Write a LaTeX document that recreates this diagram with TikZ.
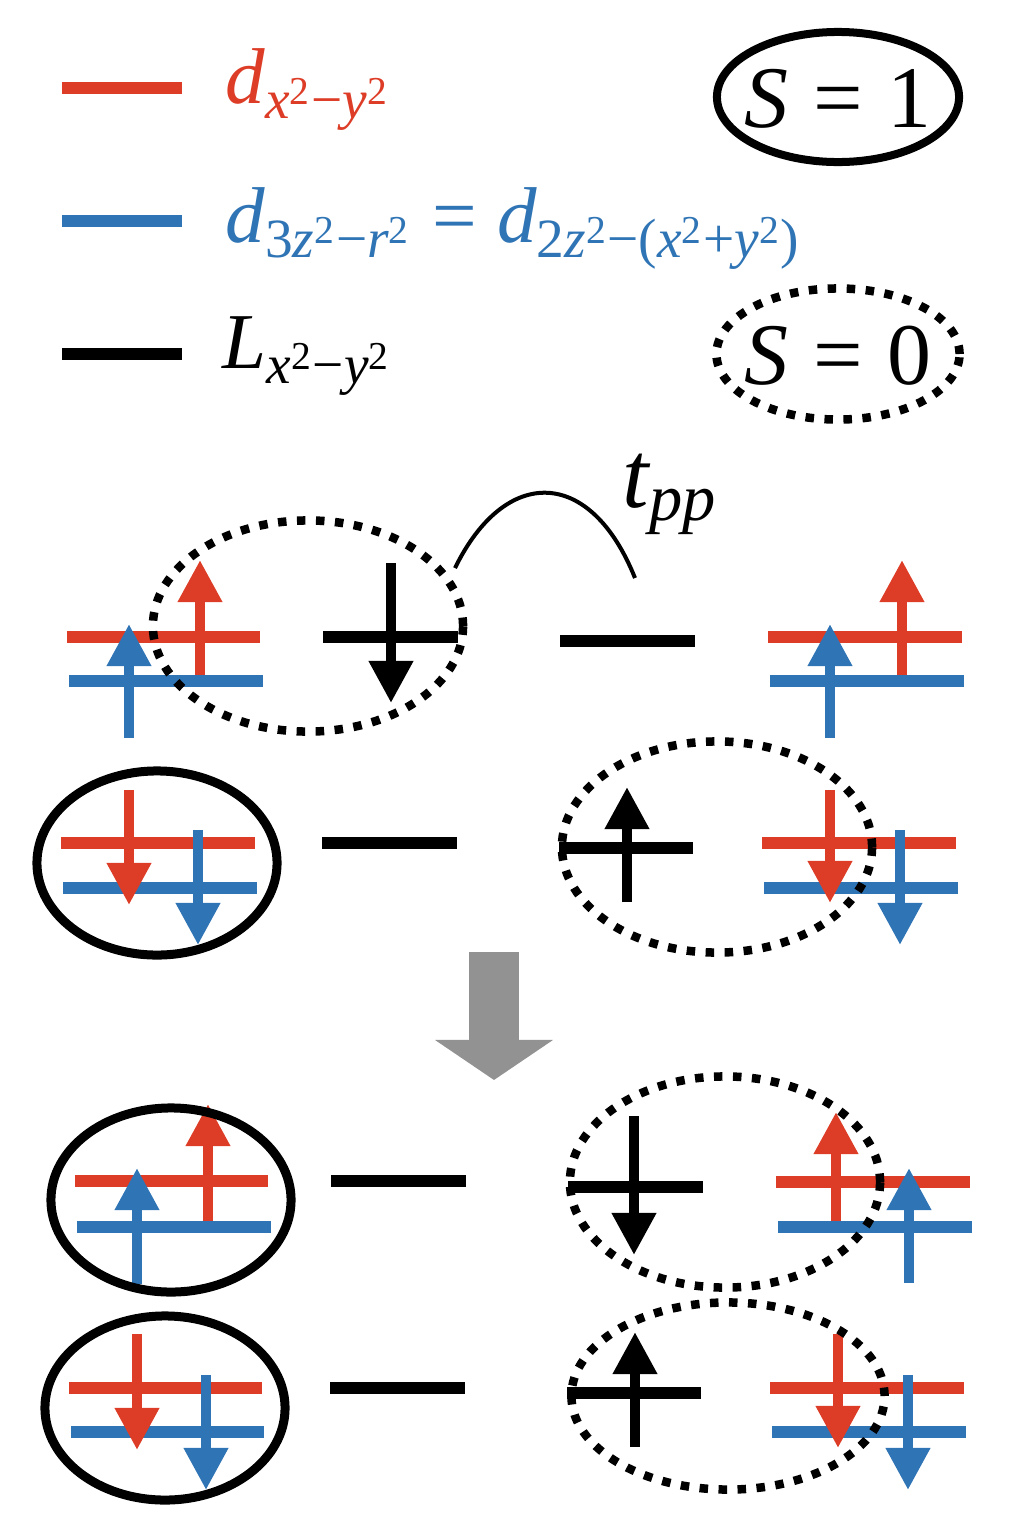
\documentclass[tikz,border=0pt]{standalone}
\usepackage{amsmath}
\usepackage{fontspec}
\setmainfont{Liberation Serif}
\newfontfamily\labfont{Liberation Serif}
\usetikzlibrary{arrows.meta, shapes.geometric}
\definecolor{dred}{RGB}{221,61,39}
\definecolor{dblue}{RGB}{47,116,181}
\definecolor{flowgray}{RGB}{146,146,146}
\newcommand{\vi}[1]{\text{\labfont\itshape #1}}
\newcommand{\vu}[1]{\text{\labfont #1}}

\begin{document}
\begin{tikzpicture}[
    x=0.01cm, y=-0.01cm,
    orbline/.style={line width=0.125cm},
    spinarr/.style={line width=0.1cm, -{Triangle[length=0.42cm, width=0.42cm]}},
    tripl/.style={draw, ellipse, line width=0.09cm, inner sep=0pt, minimum width=2.40cm, minimum height=1.84cm},
    singl/.style={draw, ellipse, line width=0.085cm, dash pattern=on 0.085cm off 0.105cm, inner sep=0pt, minimum width=3.10cm, minimum height=2.11cm},
    lab/.style={anchor=base west, inner sep=0pt, font=\fontsize{22.5}{27}\selectfont},
    spinlab/.style={inner sep=0pt, font=\fontsize{25}{30}\selectfont},
]
    \useasboundingbox (0,0) rectangle (1024,1536);

    % Legend
    \draw[orbline, dred] (62,88) -- (182,88);
    \draw[orbline, dblue] (62,221) -- (182,221);
    \draw[orbline] (62,354) -- (182,354);
    \node[lab, dred] (lgdx) at (225,103) {$\vi{d}_{\vi{x}^{\vu{2}}\mathbin{\vu{−}}\vi{y}^{\vu{2}}}$};
    \node[lab, dblue] (lgdz) at (225,242) {$\vi{d}_{\vu{3}\vi{z}^{\vu{2}}\mathbin{\vu{−}}\vi{r}^{\vu{2}}}\mathrel{\vu{=}}\vi{d}_{\vu{2}\vi{z}^{\vu{2}}\mathbin{\vu{−}}\vu{(}\vi{x}^{\vu{2}}\mathbin{\vu{+}}\vi{y}^{\vu{2}}\vu{)}}$};
    \node[lab] (lglx) at (222,368) {$\vi{L}_{\vi{x}^{\vu{2}}\mathbin{\vu{−}}\vi{y}^{\vu{2}}}$};

    % Spin labels
    \node[spinlab] (sone) at (838,99) {$\vi{S}\mathrel{\vu{=}}\vu{1}$};
    \draw[line width=0.08cm] (838,97) ellipse [x radius=1.21cm, y radius=0.65cm];
    \node[spinlab] (szero) at (838,356) {$\vi{S}\mathrel{\vu{=}}\vu{0}$};
    \draw[line width=0.085cm, dash pattern=on 0.085cm off 0.105cm] (838,354) ellipse [x radius=1.215cm, y radius=0.655cm];

    % Row 1
    \draw[orbline, dred] (67,637) -- (260,637);
    \draw[orbline, dblue] (69,681) -- (263,681);
    \draw[spinarr, dblue] (129,738) -- (129,624);
    \draw[spinarr, dred] (200,675) -- (200,560);
    \draw[orbline] (323,637) -- (458,637);
    \draw[spinarr] (391,563) -- (391,703);
    \node[singl] (pair1) at (308,626) {};
    \draw[orbline] (560,641) -- (695,641);
    \draw[orbline, dred] (768,637) -- (962,637);
    \draw[orbline, dblue] (770,681) -- (964,681);
    \draw[spinarr, dblue] (830,738) -- (830,624);
    \draw[spinarr, dred] (902,675) -- (902,560);

    % Hopping
    \coordinate (hopa) at (455,568);
    \coordinate (hopb) at (635,578);
    \draw[line width=0.04cm] (hopa) .. controls (505,466) and (590,466) .. (hopb);
    \node[anchor=base west, inner sep=0pt, font=\fontsize{27}{32}\selectfont] (thop) at (622,507) {$\vi{t}_{\vi{pp}}$};

    % Row 2
    \draw[orbline, dred] (61,843) -- (255,843);
    \draw[orbline, dblue] (63,888) -- (257,888);
    \draw[spinarr, dred] (129,790) -- (129,905);
    \draw[spinarr, dblue] (198,830) -- (198,945);
    \node[tripl] (trip1) at (157,863) {};
    \draw[orbline] (322,843) -- (457,843);
    \draw[orbline] (559,848) -- (693,848);
    \draw[spinarr] (627,902) -- (627,787);
    \draw[orbline, dred] (762,843) -- (956,843);
    \draw[orbline, dblue] (764,888) -- (958,888);
    \draw[spinarr, dred] (830,790) -- (830,903);
    \draw[spinarr, dblue] (900,830) -- (900,945);
    \node[singl] (pair2) at (717,847) {};

    % Big arrow
    \coordinate (flowtop) at (494,952);
    \coordinate (flowtip) at (494,1080);
    \draw[flowgray, line width=0.49cm, -{Triangle[length=0.40cm, width=1.16cm]}] (flowtop) -- (flowtip);

    % Row 3
    \draw[orbline, dred] (75,1181) -- (268,1181);
    \draw[orbline, dblue] (77,1227) -- (271,1227);
    \draw[spinarr, dblue] (137,1284) -- (137,1168);
    \draw[spinarr, dred] (208,1221) -- (208,1104);
    \node[tripl] (trip2) at (171,1200) {};
    \draw[orbline] (331,1181) -- (466,1181);
    \draw[orbline] (568,1187) -- (703,1187);
    \draw[spinarr] (634,1116) -- (634,1255);
    \draw[orbline, dred] (776,1182) -- (970,1182);
    \draw[orbline, dblue] (778,1227) -- (972,1227);
    \draw[spinarr, dred] (836,1221) -- (836,1112);
    \draw[spinarr, dblue] (909,1283) -- (909,1168);
    \node[singl] (pair3) at (725,1182) {};

    % Row 4
    \draw[orbline, dred] (69,1388) -- (262,1388);
    \draw[orbline, dblue] (71,1432) -- (264,1432);
    \draw[spinarr, dred] (137,1334) -- (137,1450);
    \draw[spinarr, dblue] (206,1375) -- (206,1490);
    \node[tripl] (trip3) at (165,1408) {};
    \draw[orbline] (330,1388) -- (465,1388);
    \draw[orbline] (567,1393) -- (701,1393);
    \draw[spinarr] (635,1447) -- (635,1332);
    \draw[orbline, dred] (770,1388) -- (964,1388);
    \draw[orbline, dblue] (772,1432) -- (966,1432);
    \draw[spinarr, dred] (838,1334) -- (838,1448);
    \draw[spinarr, dblue] (908,1375) -- (908,1490);
    \node[singl, minimum width=3.13cm, minimum height=1.87cm] (pair4) at (728,1396) {};
\end{tikzpicture}
\end{document}
